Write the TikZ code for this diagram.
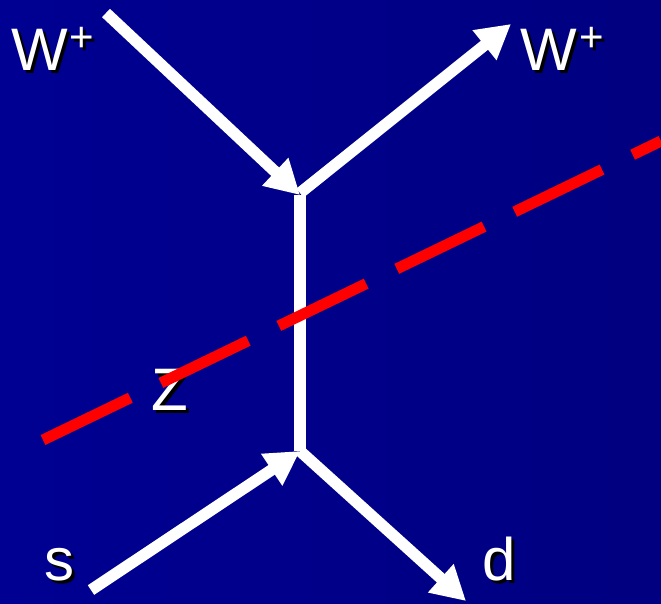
\documentclass[tikz,border=0pt]{standalone}
\usepackage{fontspec}
\setmainfont{Liberation Sans}
\usetikzlibrary{arrows.meta}
\newcommand\shtext[1]{\makebox[0pt][l]{\hspace{3pt}\raisebox{-3pt}{\color{black}#1}}#1}
\definecolor{bgleft}{RGB}{0,0,146}
\definecolor{bgright}{RGB}{0,0,128}
\tikzset{
  fermion/.style={draw=white, line width=11.5pt},
  arr/.style={-{Triangle[length=34pt,width=36pt]}},
  zline/.style={draw=red, line width=11pt, dash pattern=on 97pt off 34pt},
  lbl/.style={text=white, inner sep=0pt, font=\fontsize{60}{70}\selectfont},
  sup/.style={text=white, inner sep=0pt, font=\fontsize{42}{46}\selectfont},
}
\begin{document}
\begin{tikzpicture}[x=1pt,y=-1pt]
\useasboundingbox (0,0) rectangle (661,603);
\fill[left color=bgleft, right color=bgright] (0,0) rectangle (661,603);
% vertices and end points
\coordinate (v1) at (300,195);
\coordinate (v2) at (300,451);
\coordinate (win) at (106,13);
\coordinate (wout) at (511,24);
\coordinate (sin) at (91,590);
\coordinate (dout) at (466,601);
\coordinate (za) at (43,440);
\coordinate (zb) at (661,141);
% fermion lines
\draw[fermion] (v1) -- (v2);
\draw[fermion,arr] (win) -- (v1);
\draw[fermion,arr] ([yshift=2pt]v1) -- (wout);
\draw[fermion,arr] (sin) -- (v2);
\draw[fermion,arr] (v2) -- (dout);
% labels
\node[lbl, anchor=base west] (wl) at (11,70) {\shtext{W}};
\node[sup, anchor=center] (wlp) at (82,41) {\shtext{+}};
\node[lbl, anchor=base west] (wr) at (520,70) {\shtext{W}};
\node[sup, anchor=center] (wrp) at (592,41) {\shtext{+}};
\node[lbl, anchor=base west] (zl) at (151,410) {\shtext{Z}};
\node[lbl, anchor=base west] (sl) at (44,580) {\shtext{s}};
\node[lbl, anchor=base west] (dl) at (482,580) {\shtext{d}};
% Z propagator
\draw[zline] (za) -- (zb);
\end{tikzpicture}
\end{document}
